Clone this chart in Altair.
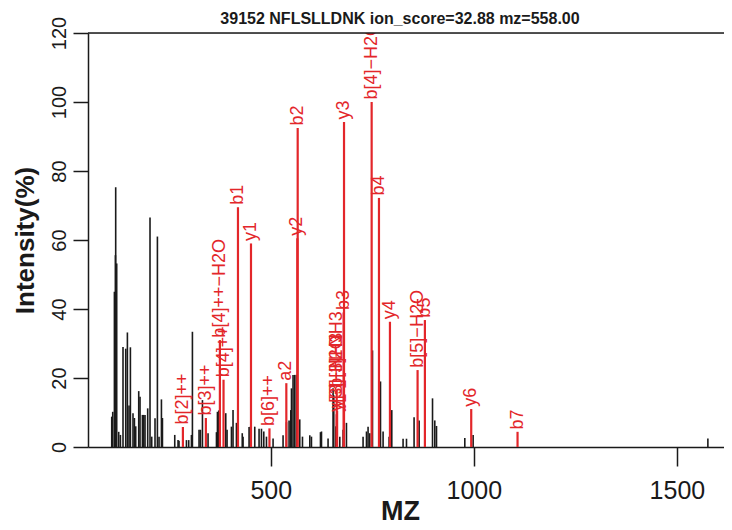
import altair as alt
import pandas as pd

# ---- unannotated (black) peaks ----
black_mz = [108.4, 110.9, 115.0, 117.5, 118.2, 120.7, 125.6, 129.8, 136.2, 142.9,
            147.0, 151.0, 154.4, 160.8, 164.3, 167.5, 174.9, 178.1, 184.0, 187.2,
            190.4, 197.0, 202.7, 206.9, 215.0, 220.9, 224.9, 230.8, 233.3, 263.6,
            271.7, 274.1, 292.4, 298.0, 304.7, 307.1, 323.4, 326.8, 331.8, 345.6,
            366.3, 368.7, 371.9, 389.2, 392.4, 415.5, 403.2, 407.1, 429.8, 431.8,
            446.6, 450.0, 460.6, 471.2, 477.1, 482.8, 489.4, 505.7, 530.3, 538.7,
            545.1, 549.3, 551.0, 554.9, 559.1, 563.3, 571.4, 578.1, 596.1, 600.2,
            622.4, 624.9, 641.1, 653.4, 655.2, 660.1, 670.0, 678.1, 686.4, 727.3,
            735.7, 739.6, 743.8, 750.5, 770.2, 776.6, 791.4, 798.0, 825.8, 834.2,
            852.9, 865.3, 898.3, 903.9, 908.1, 977.8, 998.3, 1576.3]
black_int = [8.8, 10.2, 45.0, 55.6, 75.3, 53.2, 4.4, 3.5, 29.0, 28.5,
             33.2, 12.0, 28.9, 9.8, 8.4, 6.0, 16.2, 14.6, 9.3, 9.3,
             9.3, 11.2, 66.5, 3.0, 8.3, 61.0, 3.0, 13.8, 8.4, 3.5,
             2.0, 1.8, 2.0, 2.0, 3.5, 33.4, 5.0, 5.0, 13.6, 4.0,
             4.3, 10.2, 10.6, 9.8, 5.0, 7.0, 5.9, 10.7, 4.0, 3.0,
             5.8, 5.9, 5.9, 5.3, 5.3, 4.5, 3.0, 2.5, 3.4, 7.2,
             7.7, 10.7, 17.0, 20.9, 20.9, 20.9, 8.0, 3.0, 3.4, 3.0,
             4.3, 4.5, 2.5, 17.0, 15.0, 6.0, 3.0, 5.0, 7.0, 3.0,
             4.5, 5.9, 4.0, 28.0, 19.0, 4.5, 3.0, 10.7, 2.4, 2.4,
             8.6, 7.7, 14.1, 7.7, 6.1, 2.6, 3.5, 2.5]

# ---- annotated (red) fragment ions ----
ion_labels = ["b[2]++", "b[3]++", "b[4]++\u2212H2O", "b[4]++", "b1", "y1", "b[6]++", "a2",
              "b2", "y2", "y[3]\u2212H2O", "y[3]\u2212NH3", "b[3]\u2212NH3", "b3", "y3",
              "b[4]\u2212H2O", "b4", "y4", "b[5]\u2212H2O", "b5", "y6", "b7"]
ion_mz = [283.67, 340.21, 374.72, 383.72, 419.26, 451.32, 496.81, 538.33,
          566.32, 565.36, 662.38, 663.36, 662.38, 679.41, 680.39,
          748.43, 766.44, 793.47, 861.51, 879.52, 993.59, 1107.64]
ion_int = [5.8, 8.4, 31.0, 19.5, 69.5, 59.0, 5.4, 18.5,
           92.5, 60.5, 9.5, 10.5, 16.5, 39.0, 94.2,
           100.0, 72.2, 36.3, 22.3, 36.8, 11.0, 4.4]

y_ticks = [0, 20, 40, 60, 80, 100, 120]
x_ticks = [500, 1000, 1500]
title_text = "39152 NFLSLLDNK ion_score=32.88 mz=558.00"

RED = "#e3262a"
INK = "#1a1a1a"
FONT = "Liberation Sans"
W, H = 636, 414

black = pd.DataFrame({"mz": black_mz, "intensity": black_int})
ions = pd.DataFrame({"label": ion_labels, "mz": ion_mz, "intensity": ion_int})

xs = alt.Scale(domain=[50, 1616], nice=False, zero=False)
ys = alt.Scale(domain=[0, 120], nice=False)

x_axis = alt.Axis(values=x_ticks, format="d", grid=False, tickSize=19, tickWidth=1.5,
                  tickColor=INK, domainColor=INK, domainWidth=1.5, labelFont=FONT,
                  labelFontSize=25, labelColor=INK, labelPadding=12, labelFlush=False,
                  title="MZ", titleFont=FONT, titleFontSize=27, titleFontWeight="bold",
                  titleColor=INK, titleAlign="center", titleBaseline="alphabetic",
                  titleX=W / 2 - 6, titleY=72)
y_axis = alt.Axis(values=y_ticks, grid=False, tickSize=15, tickWidth=1.5, tickColor=INK,
                  domainColor=INK, domainWidth=1.5, labelFont=FONT,
                  labelFontSize=20, labelColor=INK, labelAngle=270, labelAlign="center",
                  labelBaseline="bottom", labelPadding=4, labelFlush=False,
                  title="Intensity(%)", titleFont=FONT, titleFontSize=26,
                  titleFontWeight="bold", titleColor=INK, titleAngle=270,
                  titleAlign="center", titleBaseline="middle", titleX=-63, titleY=H / 2)

black_rules = alt.Chart(black).mark_rule(color=INK, strokeWidth=1.6).encode(
    x=alt.X("mz:Q", scale=xs, axis=x_axis),
    y=alt.Y("intensity:Q", scale=ys, axis=y_axis),
    y2=alt.datum(0),
)

red_rules = alt.Chart(ions).mark_rule(color=RED, strokeWidth=2.2).encode(
    x=alt.X("mz:Q", scale=xs),
    y=alt.Y("intensity:Q", scale=ys),
    y2=alt.datum(0),
)

red_text = alt.Chart(ions).transform_calculate(ly="datum.intensity + 0.7").mark_text(
    angle=270, align="left", baseline="middle", color=RED, fontSize=18,
    font=FONT, clip=True,
).encode(
    x=alt.X("mz:Q", scale=xs),
    y=alt.Y("ly:Q", scale=ys),
    text="label:N",
)

top_line = alt.Chart(pd.DataFrame({"k": [0]})).mark_rule(color=INK, strokeWidth=1.5).encode(
    x=alt.value(0), x2=alt.value(W), y=alt.value(0)
)

title_mark = alt.Chart(pd.DataFrame({"t": [title_text]})).mark_text(
    font=FONT, fontSize=16, fontWeight="bold", color=INK, align="center",
    baseline="alphabetic",
).encode(x=alt.value(W / 2 - 6), y=alt.value(-9), text="t:N")

chart = alt.layer(black_rules, red_rules, red_text, top_line, title_mark).properties(
    width=W, height=H,
    padding={"left": 80, "top": 25, "right": 0, "bottom": 75},
    autosize=alt.AutoSizeParams(type="none"),
).configure_view(stroke=None).configure(background="white")

chart.save("out.html", embed_options={"renderer": "svg", "actions": False})
